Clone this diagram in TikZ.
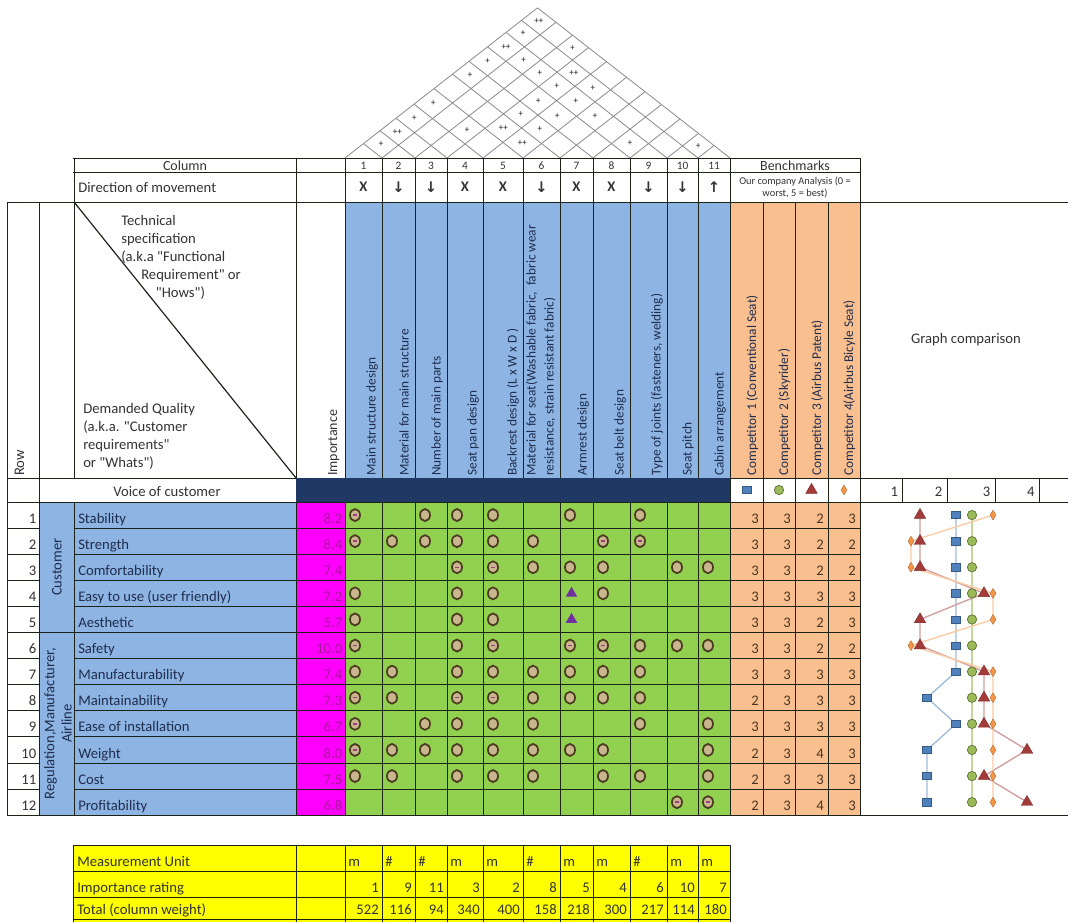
\documentclass[tikz,border=0pt]{standalone}
\usepackage{fontspec}
\setmainfont{Carlito}
\newfontfamily\arrowfont{DejaVu Sans}
\usetikzlibrary{shapes.geometric}

\definecolor{howblue}{HTML}{8DB4E2}
\definecolor{relgreen}{HTML}{92D050}
\definecolor{benchorange}{HTML}{FABF8F}
\definecolor{impmagenta}{HTML}{FF00FF}
\definecolor{navyband}{HTML}{1F3864}
\definecolor{unityellow}{HTML}{FFFF00}
\definecolor{ruleink}{HTML}{1C2418}
\definecolor{roofink}{HTML}{8A8A8A}
\definecolor{inknavy}{HTML}{1F2D4F}
\definecolor{inkgray}{HTML}{333333}
\definecolor{impink}{HTML}{A8189A}
\definecolor{benchink}{HTML}{4A3623}
\definecolor{markink}{HTML}{4B3C1F}
\definecolor{markfill}{HTML}{C9B68E}
\definecolor{thetadash}{HTML}{9C3F7C}
\definecolor{weakpurple}{HTML}{7030A0}
\definecolor{serA}{HTML}{4F81BD}
\definecolor{serB}{HTML}{9BBB59}
\definecolor{serC}{HTML}{A33B3A}
\definecolor{serD}{HTML}{F79646}

\newcommand\dirdown{{\arrowfont ↓}}
\newcommand\dirup{{\arrowfont ↑}}
% straight double quote, past the TeX ligature mapping
\newcommand\dq{\XeTeXglyph\XeTeXcharglyph"0022\relax}

% column edges (px)
\def\colx{{345,382,415,447,483,523,560,593,630,667,698,730}}
\def\benchx{{730,763,795,828,860}}
\def\axisx{{860,902.7,947,995,1039.3}}
% chart x of the values 0..4, per competitor
\def\chartA{{0,0,927,956,985}}
\def\chartB{{0,0,950,972,995}}
\def\chartC{{0,0,920,984,1027}}
\def\chartD{{0,0,911,993,1040}}

% left and right edge of column #1 into \colL and \colR
\newcommand\coledges[1]{%
  \pgfmathtruncatemacro\colI{#1-1}%
  \pgfmathsetmacro\colL{\colx[\colI]}%
  \pgfmathsetmacro\colR{\colx[#1]}}

\begin{document}
\begin{tikzpicture}[x=0.75pt, y=-0.75pt,
    tabline/.style={draw=ruleink, line width=0.7pt},
    roofline/.style={draw=roofink, line width=0.6pt},
    txt/.style={inner sep=0pt, font=\fontsize{11}{13}\selectfont, text=#1},
    txt/.default=inkgray,
    vhead/.style={inner sep=0pt, rotate=90, anchor=south west, align=left,
                  text depth=3pt, text=inknavy, font=\fontsize{10}{13.5}\selectfont},
    roofmark/.style={inner sep=0pt, font=\fontsize{6.5}{6.5}\bfseries, text=black!70},
    omark/.style={ellipse, draw=markink, fill=markfill, line width=1.3pt,
                  minimum width=7.5pt, minimum height=9pt, inner sep=0pt},
    thmark/.style={omark, path picture={\draw[thetadash, line width=1.1pt]
                  ([xshift=-1.6pt]path picture bounding box.center) --
                  ([xshift=1.6pt]path picture bounding box.center);}},
    tmark/.style={regular polygon, regular polygon sides=3, fill=weakpurple,
                  minimum size=10pt, inner sep=0pt},
    dotA/.style={rectangle, fill=serA, draw=serA!70!black, line width=0.4pt,
                 minimum width=7pt, minimum height=5.5pt, inner sep=0pt},
    dotB/.style={circle, fill=serB, draw=serB!65!black, line width=0.6pt,
                 minimum size=7pt, inner sep=0pt},
    dotC/.style={regular polygon, regular polygon sides=3, fill=serC,
                 draw=serC!80!black, line width=0.3pt, minimum size=10pt, inner sep=0pt},
    dotD/.style={diamond, fill=serD, draw=serD!70!black, line width=0.3pt,
                 minimum width=4.5pt, minimum height=7.5pt, inner sep=0pt},
    lineA/.style={draw=serA!55, line width=1pt},
    lineB/.style={draw=serB!60, line width=1pt},
    lineC/.style={draw=serC!50, line width=1pt},
    lineD/.style={draw=serD!50, line width=1pt},
]
\useasboundingbox (0,0) rectangle (1068,922);

% Fills
\fill[howblue] (345,202) rectangle (730,478);
\fill[benchorange] (730,202) rectangle (860,478);
\fill[howblue] (39,502) rectangle (296,815.2);
\fill[impmagenta] (296,502) rectangle (345,815.2);
\fill[relgreen] (345,502) rectangle (730,815.2);
\fill[benchorange] (730,502) rectangle (860,815.2);
\fill[unityellow] (73,845) rectangle (730,922);

% Roof
\foreach \i in {0,...,10}{
  \pgfmathsetmacro\xa{\colx[\i]}
  \draw[roofline] (\xa,158) -- ({(\xa+730)/2},{158-(730-\xa)*0.39});
}
\foreach \i in {1,...,11}{
  \pgfmathsetmacro\xa{\colx[\i]}
  \draw[roofline] (\xa,158) -- ({(\xa+345)/2},{158-(\xa-345)*0.39});
}
\foreach \a/\b/\s in {1/11/++, 1/10/+, 1/9/++, 3/11/+, 1/8/+, 2/9/+, 1/7/+,
    3/9/+, 4/10/++, 4/9/+, 5/10/+, 1/5/+, 4/8/+, 5/9/+, 1/4/+, 4/7/+, 5/8/+,
    6/9/+, 1/3/++, 3/5/+, 4/6/++, 5/7/+, 1/2/+, 5/6/++, 8/9/+, 10/11/+}{
  \coledges{\a}
  \pgfmathsetmacro\ca{(\colL+\colR)/2}
  \coledges{\b}
  \pgfmathsetmacro\cb{(\colL+\colR)/2}
  \node[roofmark] (roof\a-\b) at ({(\ca+\cb)/2},{158-(\cb-\ca)*0.39}) {\s};
}

% Rules
\draw[tabline] (73,158) -- (860,158);
\draw[tabline] (73,172) -- (860,172);
\draw[tabline] (7,202) -- (1068,202);
\draw[tabline] (7,478) -- (1068,478);
\draw[tabline] (7,502) -- (1068,502);
\foreach \r in {1,...,11}{
  \pgfmathsetmacro\yy{502+26.1*\r}
  \draw[tabline] (7,\yy) -- (39,\yy) (74,\yy) -- (860,\yy);
}
\draw[tabline] (39,632.5) -- (74,632.5);
\draw[tabline] (7,815.2) -- (1068,815.2);
\foreach \xx in {7,39} \draw[tabline] (\xx,202) -- (\xx,815.2);
\draw[tabline] (74,158) -- (74,478) (74,502) -- (74,815.2);
\draw[tabline] (296,158) -- (296,815.2);
\foreach \i in {0,...,11}{
  \pgfmathsetmacro\xx{\colx[\i]}
  \draw[tabline] (\xx,158) -- (\xx,815.2);
}
\foreach \xx in {763,795,828} \draw[tabline] (\xx,202) -- (\xx,815.2);
\draw[tabline] (860,158) -- (860,815.2);
\foreach \xx in {902.7,947,995,1039.3} \draw[tabline] (\xx,478) -- (\xx,502);
\fill[navyband] (296,478) rectangle (730,502);
\draw[tabline, line width=0.9pt] (74,202) -- (296,478);

% Header rows
\node[txt, font=\fontsize{10.5}{12}\selectfont] (colhead) at (185,165.5) {Column};
\foreach \i in {1,...,11}{
  \coledges{\i}
  \node[txt, font=\fontsize{8.5}{10}\selectfont] (colno\i) at ({(\colL+\colR)/2},165.5) {\i};
}
\node[txt, font=\fontsize{10.5}{12}\selectfont] (benchhead) at (795,166) {Benchmarks};
\node[txt, anchor=base west] (dirhead) at (78,192) {Direction of movement};
\foreach \d [count=\i] in {X,\dirdown,\dirdown,X,X,\dirdown,X,X,\dirdown,\dirdown,\dirup}{
  \coledges{\i}
  \node[txt, font=\fontsize{11}{13}\bfseries] (dir\i) at ({(\colL+\colR)/2},187) {\d};
}
\node[txt, align=center, font=\fontsize{7.8}{9}\selectfont] (benchnote) at (795,187)
  {Our company Analysis (0 =\\worst, 5 = best)};

% Corner cell
\node[txt, anchor=north west, align=left, font=\fontsize{11}{13.5}\selectfont] (hows) at (121,215)
  {Technical\\specification\\(a.k.a \dq Functional\\\hspace*{15pt}Requirement\dq\ or\\\hspace*{26pt}\dq Hows\dq)};
\node[txt, anchor=north west, align=left, font=\fontsize{11}{13.5}\selectfont] (whats) at (83,403)
  {Demanded Quality\\(a.k.a. \dq Customer\\requirements\dq\\or \dq Whats\dq)};
\node[vhead, text=inkgray, font=\fontsize{11}{13}\selectfont] (rowhead) at (28.5,476) {Row};
\node[vhead, text=inkgray, font=\fontsize{10.5}{13}\selectfont] (imphead) at (341.5,476) {Importance};

% Hows
\foreach \t [count=\i] in {Main structure design, Material for main structure,
    Number of main parts, Seat pan design, Backrest design (L x W x D ),
    {Material for seat(Washable fabric,\ \ fabric wear\\resistance, strain resistant fabric)},
    Armrest design, Seat belt design, {Type of joints (fasteners, welding)},
    Seat pitch, Cabin arrangement}{
  \coledges{\i}
  \node[vhead] (how\i) at ({\colR-2},476) {\t};
}
\foreach \t [count=\i] in {Competitor 1 (Conventional Seat), Competitor 2 (Skyrider),
    Competitor 3 (Airbus Patent), Competitor 4(Airbus Bicyle Seat)}{
  \pgfmathsetmacro\xx{\benchx[\i]}
  \node[vhead] (comp\i) at ({\xx-2.5},476) {\t};
}
\node[txt] (graphhead) at (966,340) {Graph comparison};

% Voice of customer row
\node[txt, anchor=base] (voice) at (167,496) {Voice of customer};
\node[dotA] (legA) at (746.5,490) {};
\node[dotB] (legB) at (779,490) {};
\node[dotC] (legC) at (811.5,490) {};
\node[dotD] (legD) at (844,490) {};
\foreach \n in {1,2,3,4}{
  \pgfmathsetmacro\xx{\axisx[\n]}
  \node[txt, anchor=base east] (axis\n) at ({\xx-4.5},496) {\n};
}

% Whats
\node[txt=inknavy, rotate=90] (catcust) at (57,567) {Customer};
\node[txt=inknavy, rotate=90, align=center] (catreg) at (58,723.5) {Regulation,Manufacturer,\\Airline};
\foreach \name/\imp [count=\r] in {Stability/8.2, Strength/8.4, Comfortability/7.4,
    Easy to use (user friendly)/7.2, Aesthetic/5.7, Safety/10.0, Manufacturability/7.4,
    Maintainability/7.3, Ease of installation/6.7, Weight/8.0, Cost/7.5, Profitability/6.8}{
  \pgfmathsetmacro\yb{502+26.1*\r-5}
  \node[txt, anchor=base east] (rowno\r) at (36.5,\yb) {\r};
  \node[txt=inknavy, anchor=base west] (what\r) at (78,\yb) {\name};
  \node[txt=impink, anchor=base east] (imp\r) at (342.5,\yb) {\imp};
}

% Relationship marks: 1 = O, 2 = theta, 3 = triangle
\foreach \marks [count=\r] in {{2,0,1,1,1,0,1,0,1,0,0}, {2,1,1,1,1,1,0,2,2,0,0},
    {0,0,0,2,2,1,1,1,0,1,1}, {1,0,0,1,1,0,3,1,0,0,0}, {1,0,0,1,1,0,3,0,0,0,0},
    {2,0,0,1,2,0,2,2,1,1,1}, {1,1,0,1,1,1,1,1,1,0,0}, {2,1,0,2,2,1,1,1,1,0,0},
    {2,0,1,1,1,1,0,0,1,0,1}, {2,1,1,1,1,1,1,1,0,0,1}, {1,1,0,1,1,1,0,1,1,0,1},
    {0,0,0,0,0,0,0,0,0,2,2}}{
  \pgfmathsetmacro\yc{502+26.1*(\r-0.5)}
  \foreach \m [count=\c] in \marks {
    \coledges{\c}
    \ifcase\m\relax
    \or \node[omark] (m\r-\c) at ({\colL+10},\yc) {};
    \or \node[thmark] (m\r-\c) at ({\colL+10},\yc) {};
    \or \node[tmark] (m\r-\c) at ({\colL+11.5},\yc) {};
    \fi
  }
}

% Benchmarks
\foreach \vals [count=\r] in {{3,3,2,3}, {3,3,2,2}, {3,3,2,2}, {3,3,3,3}, {3,3,2,3},
    {3,3,2,2}, {3,3,3,3}, {2,3,3,3}, {3,3,3,3}, {2,3,4,3}, {2,3,3,3}, {2,3,4,3}}{
  \pgfmathsetmacro\yb{502+26.1*\r-5}
  \foreach \v [count=\c] in \vals {
    \pgfmathsetmacro\xx{\benchx[\c]}
    \node[txt=benchink, anchor=base east] (bench\r-\c) at ({\xx-4},\yb) {\v};
  }
}

% Graph comparison
\foreach \v [count=\r] in {3,3,3,3,3,3,3,2,3,2,2,2}{
  \pgfmathsetmacro\xx{\chartA[\v]}
  \coordinate (A\r) at (\xx,{502+26.1*(\r-0.5)});
}
\foreach \v [count=\r] in {3,3,3,3,3,3,3,3,3,3,3,3}{
  \pgfmathsetmacro\xx{\chartB[\v]}
  \coordinate (B\r) at (\xx,{502+26.1*(\r-0.5)});
}
\foreach \v [count=\r] in {2,2,2,3,2,2,3,3,3,4,3,4}{
  \pgfmathsetmacro\xx{\chartC[\v]}
  \coordinate (C\r) at (\xx,{502+26.1*(\r-0.5)});
}
\foreach \v [count=\r] in {3,2,2,3,3,2,3,3,3,3,3,3}{
  \pgfmathsetmacro\xx{\chartD[\v]}
  \coordinate (D\r) at (\xx,{502+26.1*(\r-0.5)});
}
\draw[lineA] (A1) \foreach \r in {2,...,12}{ -- (A\r) };
\draw[lineB] (B1) \foreach \r in {2,...,12}{ -- (B\r) };
\draw[lineC] (C1) \foreach \r in {2,...,12}{ -- (C\r) };
\draw[lineD] (D1) \foreach \r in {2,...,12}{ -- (D\r) };
\foreach \r in {1,...,12}{
  \node[dotA] (ptA\r) at (A\r) {};
  \node[dotB] (ptB\r) at (B\r) {};
  \node[dotC] (ptC\r) at (C\r) {};
  \node[dotD] (ptD\r) at (D\r) {};
}

% Bottom table
\foreach \yy in {845,871,897,919.5} \draw[tabline] (73,\yy) -- (730,\yy);
\draw[tabline] (73,845) -- (73,922) (296,845) -- (296,922);
\foreach \i in {0,...,11}{
  \pgfmathsetmacro\xx{\colx[\i]}
  \draw[tabline] (\xx,845) -- (\xx,922);
}
\node[txt, anchor=base west] (unitrow) at (77,866) {Measurement Unit};
\node[txt, anchor=base west] (raterow) at (77,892) {Importance rating};
\node[txt, anchor=base west] (totalrow) at (77,914.5) {Total (column weight)};
\foreach \u/\k/\w [count=\i] in {m/1/522, \#/9/116, \#/11/94, m/3/340, m/2/400,
    \#/8/158, m/5/218, m/4/300, \#/6/217, m/10/114, m/7/180}{
  \coledges{\i}
  \node[txt, anchor=base west] (unit\i) at ({\colL+3},866) {\u};
  \node[txt, anchor=base east] (rate\i) at ({\colR-3},892) {\k};
  \node[txt, anchor=base east] (total\i) at ({\colR-3},914.5) {\w};
}
\end{tikzpicture}
\end{document}
